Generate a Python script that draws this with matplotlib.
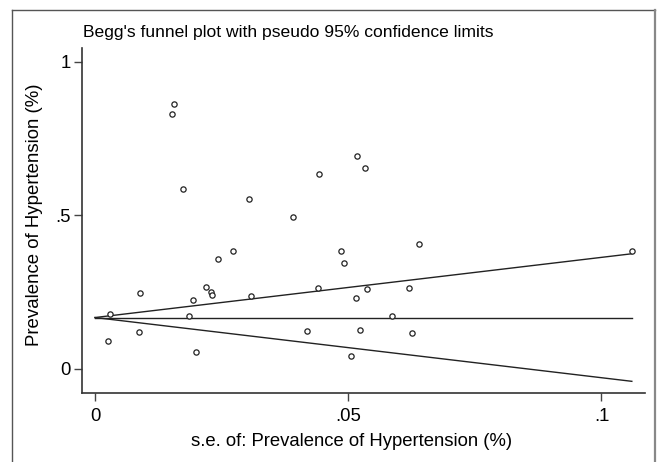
import numpy as np
import matplotlib
matplotlib.use("Agg")
import matplotlib.pyplot as plt
from matplotlib.lines import Line2D

plt.rcParams['font.family'] = ['Liberation Sans', 'DejaVu Sans']

# standard errors and prevalence estimates
se = [0.00296, 0.00263, 0.00888, 0.00862, 0.01554, 0.01527, 0.01731, 0.01850,
      0.01941, 0.02000, 0.02191, 0.02290, 0.02317, 0.02428, 0.02718, 0.03034,
      0.03074, 0.03910, 0.04192, 0.04397, 0.04423, 0.04857, 0.04916, 0.05054,
      0.05153, 0.05173, 0.05226, 0.05330, 0.05370, 0.05864, 0.06193, 0.06253,
      0.06390, 0.10600]
prev = [0.1765, 0.0906, 0.2459, 0.1189, 0.8625, 0.8290, 0.5857, 0.1720,
        0.2231, 0.0528, 0.2655, 0.2490, 0.2384, 0.3567, 0.3837, 0.5530,
        0.2351, 0.4945, 0.1211, 0.2622, 0.6326, 0.3837, 0.3446, 0.0407,
        0.2296, 0.6911, 0.1264, 0.6520, 0.2590, 0.1720, 0.2622, 0.1166,
        0.4065, 0.3827]

pooled = 0.166
z = 1.96

x_ticks = [0, 0.05, 0.1]
x_ticklabels = ['0', '.05', '.1']
y_ticks = [0, 0.5, 1]
y_ticklabels = ['0', '.5', '1']

W, H = 660, 462
fig = plt.figure(figsize=(W / 100, H / 100), dpi=100)
ax = fig.add_axes([82 / W, 1 - 393 / H, (645 - 82) / W, (393 - 48) / H])

se_line = np.array([0, max(se)])
ax.plot(se_line, [pooled, pooled], color='#222222', lw=1.0)
ax.plot(se_line, pooled + z * se_line, color='#222222', lw=1.0)
ax.plot(se_line, pooled - z * se_line, color='#222222', lw=1.0)
ax.plot(se, prev, 'o', ms=3.8, mfc='white', mec='#222222', mew=0.9, ls='none')

ax.set_xlim(-0.00257, 0.1086)
ax.set_ylim(-0.0798, 1.044)
ax.set_xticks(x_ticks)
ax.set_xticklabels(x_ticklabels)
ax.set_yticks(y_ticks)
ax.set_yticklabels(y_ticklabels)
ax.tick_params(axis='both', labelsize=13.3, length=6, width=1.0, color='#444444')
ax.tick_params(axis='x', pad=5)
ax.tick_params(axis='y', pad=2)

for side in ['top', 'right']:
    ax.spines[side].set_visible(False)
for side in ['left', 'bottom']:
    ax.spines[side].set_linewidth(1.2)
    ax.spines[side].set_color('#333333')

fig.text(83 / W, 1 - 37 / H, "Begg's funnel plot with pseudo 95% confidence limits",
         fontsize=12.6, ha='left', va='baseline')
fig.text(35 / W, 1 - 215 / H, 'Prevalence of Hypertension (%)', fontsize=13.4,
         rotation=90, ha='center', va='center')
fig.text(352 / W, 1 - 442 / H, 's.e. of: Prevalence of Hypertension (%)', fontsize=13.3,
         ha='center', va='center')

# outer frame of the graph region
fig.add_artist(Line2D([11.5 / W, 11.5 / W], [0, 1 - 9.5 / H], color='#555555', lw=1.0))
fig.add_artist(Line2D([11.5 / W, 655 / W], [1 - 9.5 / H, 1 - 9.5 / H], color='#555555', lw=1.0))
fig.add_artist(Line2D([655 / W, 655 / W], [1 - 9.5 / H, 0], color='#888888', lw=1.6))

fig.savefig('out.png', dpi=100)
